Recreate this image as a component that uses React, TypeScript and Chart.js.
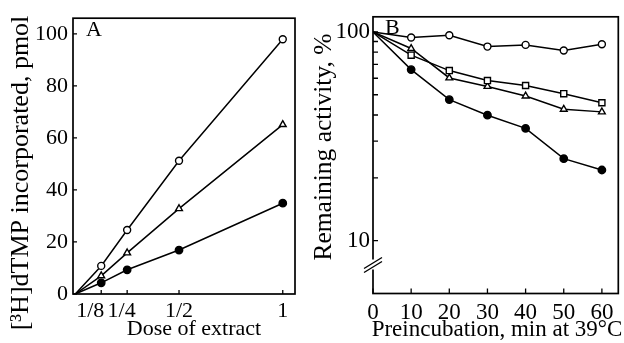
import { useEffect, useRef } from "react";
import Chart from "chart.js/auto";

// ---------- Panel A data ----------
const doseValues = [0, 0.125, 0.25, 0.5, 1];
const doseTickValues = [0.125, 0.25, 0.5, 1];
const doseTickLabels = ["1/8", "1/4", "1/2", "1"];
const openCircleA = [0, 10.8, 24.6, 51.2, 97.9];
const triangleA = [0, 7.0, 15.8, 32.8, 65.1];
const filledA = [0, 4.3, 9.3, 16.9, 34.9];
const yTicksA = [0, 20, 40, 60, 80, 100];

// ---------- Panel B data ----------
const timeValues = [0, 10, 20, 30, 40, 50, 60];
const xTicksB = [0, 10, 20, 30, 40, 50, 60];
const openCircleB = [100, 94, 96.4, 85.1, 86.7, 81.5, 87.3];
const squareB = [100, 77.4, 65.3, 58.5, 55.4, 50.6, 45.8];
const triangleB = [100, 83.3, 60.2, 54.8, 49.3, 42.6, 41.4];
const filledB = [100, 66, 47.4, 39.9, 34.5, 24.7, 21.8];
const yTicksB = [10, 20, 30, 40, 50, 60, 70, 80, 90, 100];
const yLabelledB = [10, 100];

const FONT = "'Liberation Serif', 'Times New Roman', Times, serif";

type TextItem = { text: string; x: number; y: number; size: number; rotate?: boolean; align?: CanvasTextAlign };

function framePlugin(tickLen: number, breakValue?: number) {
  return {
    id: "frameTicks",
    afterDatasetsDraw(chart: any) {
      const { ctx, chartArea } = chart;
      const { left, right, top, bottom } = chartArea;
      ctx.save();
      ctx.strokeStyle = "#000";
      ctx.lineWidth = 1.7;
      ctx.strokeRect(left, top, right - left, bottom - top);
      ctx.lineWidth = 1.3;
      const xs = chart.scales.x;
      const ys = chart.scales.y;
      ctx.beginPath();
      xs.ticks.forEach((t: any) => {
        const px = xs.getPixelForValue(t.value);
        ctx.moveTo(px, bottom);
        ctx.lineTo(px, bottom - tickLen);
      });
      ys.ticks.forEach((t: any) => {
        const py = ys.getPixelForValue(t.value);
        ctx.moveTo(left, py);
        ctx.lineTo(left + tickLen, py);
      });
      ctx.stroke();
      if (breakValue !== undefined) {
        const p = ys.getPixelForValue(breakValue);
        ctx.fillStyle = "#fff";
        ctx.fillRect(left - 2, p - 6, 4, 10);
        ctx.lineWidth = 1.4;
        ctx.beginPath();
        ctx.moveTo(left - 9, p + 7);
        ctx.lineTo(left + 9, p - 4);
        ctx.moveTo(left - 9, p + 3);
        ctx.lineTo(left + 9, p - 8);
        ctx.stroke();
      }
      ctx.restore();
    },
  };
}

function textPlugin(items: TextItem[]) {
  return {
    id: "texts",
    afterDraw(chart: any) {
      const ctx = chart.ctx;
      items.forEach((it) => {
        ctx.save();
        ctx.font = `${it.size}px ${FONT}`;
        ctx.fillStyle = "#000";
        ctx.textAlign = it.align || "center";
        ctx.textBaseline = "middle";
        ctx.translate(it.x, it.y);
        if (it.rotate) ctx.rotate(-Math.PI / 2);
        ctx.fillText(it.text, 0, 0);
        ctx.restore();
      });
    },
  };
}

function series(xs: number[], ys: number[], style: string, filled: boolean, radius: number) {
  return {
    data: xs.map((x, i) => ({ x, y: ys[i] })),
    borderColor: "#000",
    borderWidth: 1.5,
    backgroundColor: filled ? "#000" : "#fff",
    pointBackgroundColor: filled ? "#000" : "#fff",
    pointBorderColor: "#000",
    pointBorderWidth: 1.4,
    pointStyle: style,
    pointRadius: (c: any) => (c.dataIndex === 0 ? 0 : radius),
    fill: false,
    tension: 0,
  };
}

export default function App() {
  const refA = useRef<HTMLCanvasElement>(null);
  const refB = useRef<HTMLCanvasElement>(null);

  useEffect(() => {
    const tickFont = { family: FONT, size: 22 };
    const noGrid = { display: false, drawTicks: false };
    // trailing spaces nudge the two crowded labels left, as in the original figure
    const labelPad = ["\u2003", "\u2002", "", ""];
    const chartA = new Chart(refA.current!, {
      type: "line",
      data: {
        datasets: [
          series(doseValues, openCircleA, "circle", false, 3.5),
          series(doseValues, triangleA, "triangle", false, 3.9),
          series(doseValues, filledA, "circle", true, 3.7),
        ] as any,
      },
      options: {
        animation: false,
        responsive: false,
        devicePixelRatio: 1,
        events: [],
        layout: { padding: { left: 0, right: 10, top: 14, bottom: 0 } },
        plugins: { legend: { display: false }, tooltip: { enabled: false } },
        scales: {
          x: {
            type: "linear",
            min: -0.011,
            max: 1.059,
            afterBuildTicks: (s: any) => {
              s.ticks = doseTickValues.map((v) => ({ value: v }));
            },
            afterFit: (s: any) => {
              s.height = 49;
            },
            ticks: {
              callback: (_v: any, i: number) => doseTickLabels[i] + labelPad[i],
              font: tickFont,
              color: "#000",
              padding: 4,
              maxRotation: 0,
              autoSkip: false,
            },
            grid: noGrid,
            border: { display: false },
          },
          y: {
            type: "linear",
            min: 0,
            max: 106,
            afterBuildTicks: (s: any) => {
              s.ticks = yTicksA.map((v) => ({ value: v }));
            },
            afterFit: (s: any) => {
              s.width = 73;
            },
            ticks: { font: tickFont, color: "#000", padding: 5, autoSkip: false },
            grid: noGrid,
            border: { display: false },
          },
        },
      } as any,
      plugins: [
        framePlugin(4),
        textPlugin([
          { text: "A", x: 86, y: 30, size: 22, align: "left" },
          { text: "Dose of extract", x: 194, y: 329, size: 22 },
          { text: "[³H]dTMP incorporated, pmol", x: 21, y: 173, size: 26, rotate: true },
        ]),
      ],
    });

    const tickFontB = { family: FONT, size: 23 };
    const chartB = new Chart(refB.current!, {
      type: "line",
      data: {
        datasets: [
          series(timeValues, openCircleB, "circle", false, 3.5),
          series(timeValues, squareB, "rect", false, 4.3),
          series(timeValues, triangleB, "triangle", false, 3.9),
          series(timeValues, filledB, "circle", true, 3.7),
        ] as any,
      },
      options: {
        animation: false,
        responsive: false,
        devicePixelRatio: 1,
        events: [],
        layout: { padding: { left: 0, right: 1, top: 14, bottom: 0 } },
        plugins: { legend: { display: false }, tooltip: { enabled: false } },
        scales: {
          x: {
            type: "linear",
            min: 0,
            max: 64.3,
            afterBuildTicks: (s: any) => {
              s.ticks = xTicksB.map((v) => ({ value: v }));
            },
            afterFit: (s: any) => {
              s.height = 49.5;
            },
            ticks: { font: tickFontB, color: "#000", padding: 6, maxRotation: 0, autoSkip: false },
            grid: noGrid,
            border: { display: false },
          },
          y: {
            type: "logarithmic",
            min: 5.58,
            max: 118.2,
            afterBuildTicks: (s: any) => {
              s.ticks = yTicksB.map((v) => ({ value: v }));
            },
            afterFit: (s: any) => {
              s.width = 68;
            },
            ticks: {
              callback: (v: any) => (yLabelledB.includes(Number(v)) ? String(v) : ""),
              font: tickFontB,
              color: "#000",
              padding: 3,
              autoSkip: false,
            },
            grid: noGrid,
            border: { display: false },
          },
        },
      } as any,
      plugins: [
        framePlugin(5, 7.6),
        textPlugin([
          { text: "B", x: 80, y: 28, size: 22, align: "left" },
          { text: "Preincubation, min at 39°C", x: 192, y: 330, size: 23 },
          { text: "Remaining activity, %", x: 19, y: 147, size: 25.5, rotate: true },
        ]),
      ],
    });

    return () => {
      chartA.destroy();
      chartB.destroy();
    };
  }, []);

  return (
    <div style={{ position: "absolute", left: 0, top: 0, width: 624, height: 343, background: "#fff" }}>
      <canvas ref={refA} width={305} height={343} style={{ position: "absolute", left: 0, top: 0 }} />
      <canvas ref={refB} width={319} height={343} style={{ position: "absolute", left: 305, top: 0 }} />
    </div>
  );
}
